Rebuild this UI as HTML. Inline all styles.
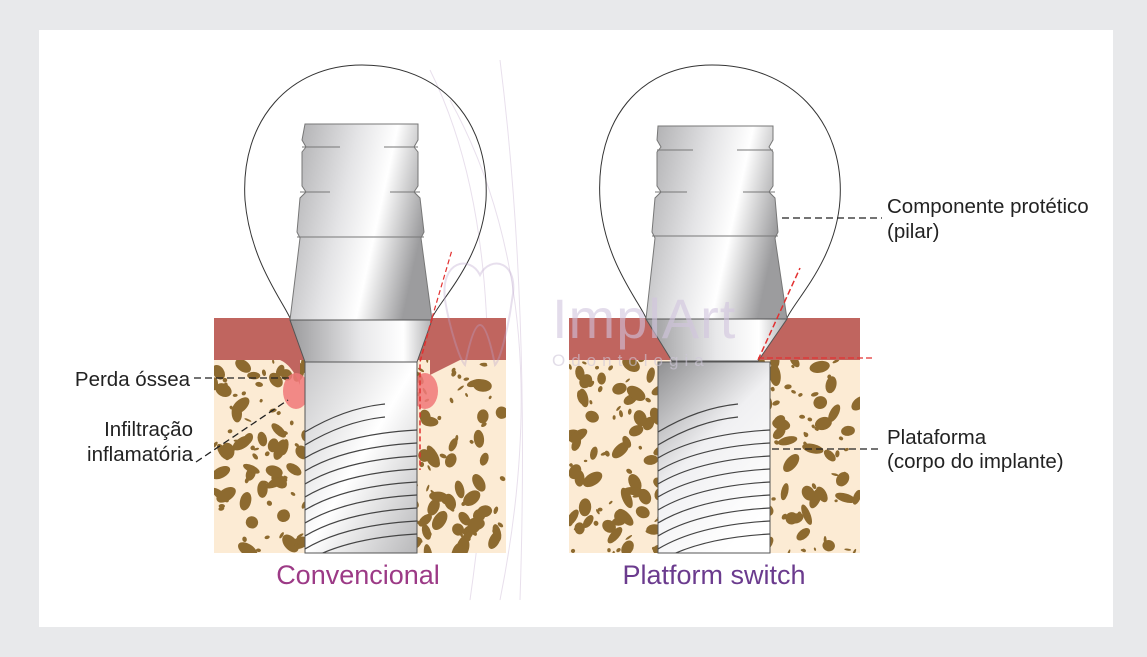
<!DOCTYPE html>
<html><head><meta charset="utf-8"><style>
html,body{margin:0;padding:0;background:#e8e9eb;width:1147px;height:657px;overflow:hidden}
svg{display:block}
text{font-family:"Liberation Sans",sans-serif}
</style></head><body>
<svg id="s" width="1147" height="657" viewBox="0 0 1147 657" xmlns="http://www.w3.org/2000/svg">
<defs>
<linearGradient id="met" x1="0" y1="0" x2="1" y2="0.3">
<stop offset="0" stop-color="#a9a9ab"/><stop offset="0.45" stop-color="#e4e4e6"/><stop offset="0.7" stop-color="#ffffff"/><stop offset="1" stop-color="#9c9c9e"/></linearGradient>
<linearGradient id="met2" x1="0" y1="0" x2="1" y2="0">
<stop offset="0" stop-color="#9a9a9c"/><stop offset="0.5" stop-color="#e8e8ea"/><stop offset="0.8" stop-color="#ffffff"/><stop offset="1" stop-color="#b0b0b2"/></linearGradient>
<linearGradient id="body" x1="0" y1="0" x2="1" y2="1">
<stop offset="0" stop-color="#c8c8ca"/><stop offset="0.5" stop-color="#ffffff"/><stop offset="1" stop-color="#b8b8ba"/></linearGradient>
<linearGradient id="body2" x1="0" y1="0" x2="0.6" y2="1">
<stop offset="0" stop-color="#8f8f91"/><stop offset="0.5" stop-color="#f0f0f2"/><stop offset="1" stop-color="#ffffff"/></linearGradient>
<clipPath id="cl1"><rect x="214" y="360" width="292" height="193"/></clipPath>
<clipPath id="cl2"><rect x="569" y="360" width="291" height="193"/></clipPath>
<clipPath id="ct1"><rect x="305" y="362" width="112" height="191"/></clipPath>
<clipPath id="ct2"><rect x="658" y="362" width="112" height="191"/></clipPath>
</defs>
<rect x="39" y="30" width="1074" height="597" fill="#ffffff"/>

<g fill="none" stroke="#e3d8e8" stroke-width="1" opacity="0.8">
<path d="M430 70 Q520 250 470 600"/><path d="M450 100 Q560 300 500 600"/><path d="M500 60 Q530 300 520 600"/>
</g>

<!-- LEFT -->
<rect x="214" y="360" width="292" height="193" fill="#fcebd4"/>
<g id="sp1" clip-path="url(#cl1)" fill="#8d6a2f"></g>
<rect x="214" y="318" width="292" height="42" fill="#c0655f"/>
<path d="M214 360 L280 360 Q292 365 300 385 L300 360 Z" fill="#c0655f"/>
<path d="M430 360 L460 360 L430 375 Z" fill="#c0655f"/>
<ellipse cx="296" cy="391" rx="13" ry="18" fill="#f07878" opacity="0.85"/>
<ellipse cx="425" cy="391" rx="13" ry="18" fill="#f07878" opacity="0.85"/>
<path d="M245 200 C240 120 290 65 362 65 C440 65 490 120 486 200 C482 260 440 300 432 318 L290 318 C282 300 250 260 245 200 Z" fill="none" stroke="#333" stroke-width="1"/>
<path d="M305 124 L418 124 L418 140 L414 147 L418 152 L418 186 L414 192 L420 198 L424 232 L421 238 L432 320 L290 320 L300 238 L297 232 L300 198 L306 192 L302 186 L302 152 L306 147 L302 140 Z" fill="url(#met)" stroke="#777" stroke-width="1"/>
<path d="M302 147 H340 M384 147 H418 M300 192 H330 M390 192 H420 M297 237 H424" stroke="#777" fill="none"/>
<path d="M290 320 L432 320 L417 362 L305 362 Z" fill="url(#met2)" stroke="#555" stroke-width="1"/>
<rect x="305" y="362" width="112" height="191" fill="url(#body)" stroke="#555"/>
<g id="th1" clip-path="url(#ct1)" fill="none" stroke="#444" stroke-width="1.2"></g>
<path d="M432 318 L420 362 L420 470" stroke="#e23030" stroke-width="1.5" stroke-dasharray="5,3" fill="none"/>
<path d="M432 318 L452 250" stroke="#e23030" stroke-width="1.2" stroke-dasharray="5,3" fill="none"/>

<!-- RIGHT -->
<rect x="569" y="360" width="291" height="193" fill="#fcebd4"/>
<g id="sp2" clip-path="url(#cl2)" fill="#8d6a2f"></g>
<rect x="569" y="318" width="291" height="42" fill="#c0655f"/>
<path d="M600 200 C595 120 640 65 712 65 C790 65 845 120 840 200 C836 260 795 300 787 318 L646 318 C638 300 604 260 600 200 Z" fill="none" stroke="#333" stroke-width="1"/>
<path d="M658 126 L773 126 L773 140 L769 147 L773 152 L773 186 L769 192 L775 198 L778 232 L775 238 L787 319 L646 319 L655 238 L652 232 L655 198 L661 192 L657 186 L657 152 L661 147 L657 140 Z" fill="url(#met)" stroke="#777" stroke-width="1"/>
<path d="M657 150 H693 M737 150 H773 M655 192 H687 M743 192 H775 M652 236 H778" stroke="#777" fill="none"/>
<path d="M646 319 L787 319 L758 361 L672 361 Z" fill="url(#met2)" stroke="#555"/>
<rect x="658" y="362" width="112" height="191" fill="url(#body2)" stroke="#555"/>
<g id="th2" clip-path="url(#ct2)" fill="none" stroke="#444" stroke-width="1.2"></g>
<path d="M758 360 L800 268" stroke="#e23030" stroke-width="1.5" stroke-dasharray="6,3" fill="none"/>
<path d="M758 358 L872 358" stroke="#e23030" stroke-width="1.2" stroke-dasharray="6,3" fill="none"/>

<!-- watermark -->
<g opacity="0.35" fill="none" stroke="#b9a3cc" stroke-width="2">
<path d="M445 300 C440 260 470 255 480 275 C490 255 520 260 512 300 C508 330 500 360 495 365 C490 340 485 325 480 325 C475 325 470 340 465 365 C460 360 450 330 445 300 Z"/>
</g>
<text x="552" y="338" font-size="56" fill="#d2c5df" opacity="0.6" letter-spacing="1">ImplArt</text>
<text x="552" y="366" font-size="17" fill="#d0c8da" opacity="0.6" letter-spacing="6">Odontologia</text>

<g stroke="#222" stroke-width="1.3" stroke-dasharray="7,4" fill="none">
<path d="M194 378 L292 378"/><path d="M196 462 L288 400"/>
<path d="M782 218 L882 218"/><path d="M772 449 L882 449"/>
</g>
<g font-size="20.5" fill="#222">
<text x="190" y="386" text-anchor="end">Perda óssea</text>
<text x="193" y="436" text-anchor="end">Infiltração</text>
<text x="193" y="461" text-anchor="end">inflamatória</text>
<text x="887" y="213">Componente protético</text>
<text x="887" y="238">(pilar)</text>
<text x="887" y="444">Plataforma</text>
<text x="887" y="468">(corpo do implante)</text>
</g>
<text x="358" y="584" font-size="27" fill="#9c3a86" text-anchor="middle">Convencional</text>
<text x="714" y="584" font-size="27" fill="#6b3b8e" text-anchor="middle">Platform switch</text>
</svg>
<script>
var NS="http://www.w3.org/2000/svg";
var seed=7;function r(){seed=(seed*16807)%2147483647;return seed/2147483647;}
function spots(id,x0,x1){var g=document.getElementById(id);
for(var i=0;i<240;i++){var e=document.createElementNS(NS,"ellipse");
var big=r()<0.55;var cx=x0+r()*(x1-x0),cy=360+r()*195;
e.setAttribute("cx",cx);e.setAttribute("cy",cy);
e.setAttribute("rx",big?6+r()*5:1.5+r()*2.5);e.setAttribute("ry",big?3.5+r()*3:1+r()*1.5);
e.setAttribute("transform","rotate("+(r()*180)+" "+cx+" "+cy+")");g.appendChild(e);}}
spots("sp1",214,506);spots("sp2",569,860);
function threads(id,x0,x1){var g=document.getElementById(id);
for(var i=0;i<11;i++){var y=410+i*13;var p=document.createElementNS(NS,"path");
var end=i<2?x0+80:x1;
p.setAttribute("d","M"+x0+" "+(y+22)+" Q"+(x0+40)+" "+(y-2)+" "+end+" "+(y-6));
g.appendChild(p);}}
threads("th1",305,417);threads("th2",658,770);
</script>
</body></html>
